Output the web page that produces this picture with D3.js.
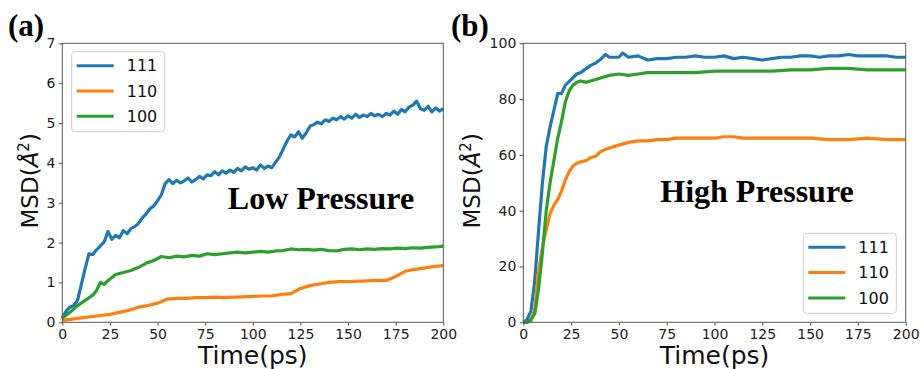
<!DOCTYPE html>
<html>
<head>
<meta charset="utf-8">
<script src="https://cdn.jsdelivr.net/npm/d3@7"></script>
<style>
  body { margin: 0; background: #fff; }
  svg { display: block; }
</style>
</head>
<body>
<div id="graph-container"></div>
<script>

/////////////////////////////////////////////////////////////////////////////
                      ///////    Data    ///////
/////////////////////////////////////////////////////////////////////////////

var facets = ['111', '110', '100'];
var x_ticks = [0, 25, 50, 75, 100, 125, 150, 175, 200];
var y_ticks_low = [0, 1, 2, 3, 4, 5, 6, 7];
var y_ticks_high = [0, 20, 40, 60, 80, 100];

// low pressure, [time (ps), MSD]
var low_111 = [[0,0.10],[2,0.28],[4,0.38],[6,0.42],[8,0.55],[10,0.95],[12,1.35],[14,1.72],[16,1.70],[18,1.82],
  [20,1.92],[22,2.02],[24,2.28],[26,2.08],[28,2.18],[30,2.12],[32,2.30],[34,2.22],[36,2.35],[38,2.40],
  [40,2.48],[42,2.62],[44,2.72],[46,2.85],[48,2.92],[50,3.05],[52,3.20],[54,3.48],[56,3.58],[58,3.48],
  [60,3.56],[62,3.50],[64,3.55],[66,3.62],[68,3.52],[70,3.58],[72,3.66],[74,3.60],[76,3.70],[78,3.68],
  [80,3.78],[82,3.70],[84,3.80],[86,3.74],[88,3.82],[90,3.76],[92,3.86],[94,3.80],[96,3.90],[98,3.84],
  [100,3.88],[102,3.82],[104,3.95],[106,3.86],[108,3.92],[110,3.88],[112,4.02],[114,4.15],[116,4.35],[118,4.55],
  [120,4.70],[122,4.65],[124,4.78],[126,4.62],[128,4.75],[130,4.92],[132,4.96],[134,5.02],[136,4.98],[138,5.08],
  [140,5.04],[142,5.12],[144,5.08],[146,5.16],[148,5.10],[150,5.18],[152,5.12],[154,5.22],[156,5.14],[158,5.20],
  [160,5.16],[162,5.24],[164,5.18],[166,5.22],[168,5.16],[170,5.24],[172,5.20],[174,5.30],[176,5.22],[178,5.34],
  [180,5.28],[182,5.40],[184,5.45],[186,5.55],[188,5.36],[190,5.32],[192,5.42],[194,5.28],[196,5.38],[198,5.30],[200,5.36]];

var low_110 = [[0,0.05],[5,0.08],[10,0.11],[15,0.14],[20,0.17],[25,0.20],[30,0.25],[35,0.30],[40,0.38],[45,0.42],
  [50,0.48],[55,0.58],[60,0.60],[65,0.60],[70,0.62],[75,0.62],[80,0.63],[85,0.62],[90,0.63],[95,0.64],
  [100,0.65],[105,0.66],[110,0.66],[115,0.70],[120,0.72],[125,0.85],[130,0.92],[135,0.96],[140,1.00],[145,1.02],
  [150,1.02],[155,1.03],[160,1.04],[165,1.05],[170,1.05],[175,1.15],[180,1.28],[185,1.33],[190,1.36],[195,1.40],[200,1.42]];

var low_100 = [[0,0.10],[4,0.25],[8,0.42],[12,0.55],[16,0.68],[18,0.80],[20,1.00],[22,0.95],[24,1.05],[28,1.20],
  [32,1.25],[36,1.30],[40,1.38],[44,1.48],[48,1.55],[52,1.65],[56,1.62],[60,1.66],[64,1.64],[68,1.68],
  [72,1.66],[76,1.72],[80,1.70],[84,1.72],[88,1.74],[92,1.76],[96,1.74],[100,1.76],[104,1.78],[108,1.76],
  [112,1.79],[116,1.80],[120,1.84],[124,1.82],[128,1.83],[132,1.81],[136,1.83],[140,1.80],[144,1.79],[148,1.83],
  [152,1.84],[156,1.82],[160,1.84],[164,1.83],[168,1.85],[172,1.84],[176,1.86],[180,1.85],[184,1.87],[188,1.86],
  [192,1.88],[196,1.89],[200,1.91]];

// high pressure, [time (ps), MSD]
var high_111 = [[0,0],[2,1],[4,4],[6,15],[8,33],[10,50],[12,63],[14,70],[16,76],[18,82],[20,82],[22,85],
  [25,87],[28,89],[30,89.5],[33,91],[35,92],[38,93],[40,94],[43,96],[45,95],[48,95],[50,95],[52,96.5],[55,95],
  [60,95.5],[65,94],[70,94.5],[75,94.5],[80,95],[85,95],[90,95.5],[95,95],[100,95],[105,95.5],[110,94.5],[115,95],
  [120,94.5],[125,94],[130,94.5],[135,95],[140,95],[145,95.5],[150,95.5],[155,95],[160,95.5],[165,95.5],[170,96],
  [175,95.5],[180,95.5],[185,95.5],[190,95.5],[195,95],[200,95]];

var high_110 = [[0,0],[2,0],[4,0.5],[6,5],[8,18],[10,27],[12,33],[14,39],[16,42],[18,44],[20,47],[22,51],
  [24,54],[26,56],[28,57],[30,57.5],[33,58],[35,59],[38,59.5],[40,61],[43,62],[45,62.5],[50,63.5],[55,64.5],
  [60,65],[65,65],[70,65.5],[75,65.5],[80,66],[90,66],[100,66],[105,66.5],[110,66.5],[115,66],[120,66],[130,66],
  [140,66],[150,66],[160,65.5],[170,65.5],[180,66],[190,65.5],[200,65.5]];

var high_100 = [[0,0],[2,0],[4,1],[6,3],[8,12],[10,25],[12,40],[14,50],[16,58],[18,66],[20,72],[22,79],
  [24,83],[26,85],[28,86],[30,86.5],[33,86],[35,86.5],[38,87],[40,87.5],[45,88.5],[50,89],[55,88.5],[60,89],
  [65,89.5],[70,89.5],[80,89.5],[90,89.5],[100,90],[110,90],[120,90],[130,90],[140,90.5],[150,90.5],[160,91],
  [170,91],[180,90.5],[190,90.5],[200,90.5]];

/////////////////////////////////////////////////////////////////////////////
                      ///////    Set Up    ///////
/////////////////////////////////////////////////////////////////////////////

var W = 921, H = 369;
var colors = ['#1f77b4', '#ff7f0e', '#2ca02c'];
var tick_font = '"DejaVu Sans", sans-serif';
var title_font = '"Liberation Serif", "Times New Roman", serif';

var svg = d3.select('#graph-container').append('svg')
    .attr('width', W).attr('height', H);

function Panel(opts) {

    var x = d3.scaleLinear().domain([0, 200]).range([opts.left, opts.right]);
    var y = d3.scaleLinear().domain([0, opts.ymax]).range([opts.bottom, opts.top]);

    var g = svg.append('g');

    // curves
    var line = d3.line().x(d => x(d[0])).y(d => y(d[1]));
    g.selectAll('.curve').data(opts.series).enter()
        .append('path')
        .attr('class', 'curve')
        .attr('d', d => line(d))
        .attr('fill', 'none')
        .attr('stroke', (d, i) => colors[i])
        .attr('stroke-width', 3.2)
        .attr('stroke-linejoin', 'round');

    // axes
    var x_axis = g.append('g').attr('transform', `translate(0,${opts.bottom})`)
        .call(d3.axisBottom(x).tickValues(x_ticks).tickFormat(d3.format('d')).tickSize(3.5).tickPadding(3.5));
    var y_axis = g.append('g').attr('transform', `translate(${opts.left},0)`)
        .call(d3.axisLeft(y).tickValues(opts.yticks).tickFormat(d3.format('d')).tickSize(3.5).tickPadding(3.5));

    [x_axis, y_axis].forEach(a => {
        a.select('.domain').remove();
        a.selectAll('line').attr('stroke', '#555');
        a.selectAll('text').attr('font-family', tick_font).attr('font-size', 14).attr('fill', '#222');
    });

    // frame
    g.append('rect')
        .attr('x', opts.left).attr('y', opts.top)
        .attr('width', opts.right - opts.left).attr('height', opts.bottom - opts.top)
        .attr('fill', 'none').attr('stroke', '#555').attr('stroke-width', 1);

    // axis labels
    g.append('text')
        .attr('x', (opts.left + opts.right) / 2).attr('y', 364)
        .attr('text-anchor', 'middle')
        .attr('font-family', tick_font).attr('font-size', 25).attr('fill', '#111')
        .text('Time(ps)');

    var yl = g.append('text')
        .attr('transform', `translate(${opts.ylabel_x},${(opts.top + opts.bottom) / 2 - 2}) rotate(-90)`)
        .attr('text-anchor', 'middle')
        .attr('font-family', tick_font).attr('font-size', 23).attr('fill', '#111');
    yl.append('tspan').text('MSD(');
    yl.append('tspan').attr('font-style', 'italic').text('Å');
    yl.append('tspan').attr('font-size', 15).attr('dy', -9).text('2');
    yl.append('tspan').attr('dy', 9).text(')');

    // panel letter
    g.append('text')
        .attr('x', opts.letter_x).attr('y', 36)
        .attr('font-family', title_font).attr('font-weight', 'bold').attr('font-size', 31)
        .text(opts.letter);

    // annotation
    g.append('text')
        .attr('x', opts.note_x).attr('y', opts.note_y)
        .attr('text-anchor', 'middle')
        .attr('font-family', title_font).attr('font-weight', 'bold').attr('font-size', 32)
        .text(opts.note);

    // legend
    var lg = g.append('g').attr('transform', `translate(${opts.legend_x},${opts.legend_y})`);
    lg.append('rect')
        .attr('width', 93).attr('height', 80).attr('rx', 3)
        .attr('fill', '#fff').attr('fill-opacity', 0.8)
        .attr('stroke', '#d0d0d0').attr('stroke-width', 1);
    var rows = lg.selectAll('.lrow').data(facets).enter()
        .append('g').attr('class', 'lrow')
        .attr('transform', (d, i) => `translate(0,${14 + i * 25.3})`);
    rows.append('line')
        .attr('x1', 5).attr('x2', 42)
        .attr('stroke', (d, i) => colors[i]).attr('stroke-width', 3);
    rows.append('text')
        .attr('x', 55).attr('dy', '0.36em')
        .attr('font-family', tick_font).attr('font-size', 16).attr('fill', '#111')
        .text(d => d);
}

/////////////////////////////////////////////////////////////////////////////
                      ///////    Draw    ///////
/////////////////////////////////////////////////////////////////////////////

Panel({
    left: 62.3, right: 443.3, top: 43.3, bottom: 322.3, ymax: 7,
    yticks: y_ticks_low, series: [low_111, low_110, low_100],
    ylabel_x: 38, letter: '(a)', letter_x: 8,
    note: 'Low Pressure', note_x: 321, note_y: 209,
    legend_x: 71.7, legend_y: 51.7
});

Panel({
    left: 523.3, right: 905.7, top: 43.3, bottom: 322.3, ymax: 100,
    yticks: y_ticks_high, series: [high_111, high_110, high_100],
    ylabel_x: 480, letter: '(b)', letter_x: 451,
    note: 'High Pressure', note_x: 757, note_y: 202,
    legend_x: 803.3, legend_y: 233.3
});

</script>
</body>
</html>
